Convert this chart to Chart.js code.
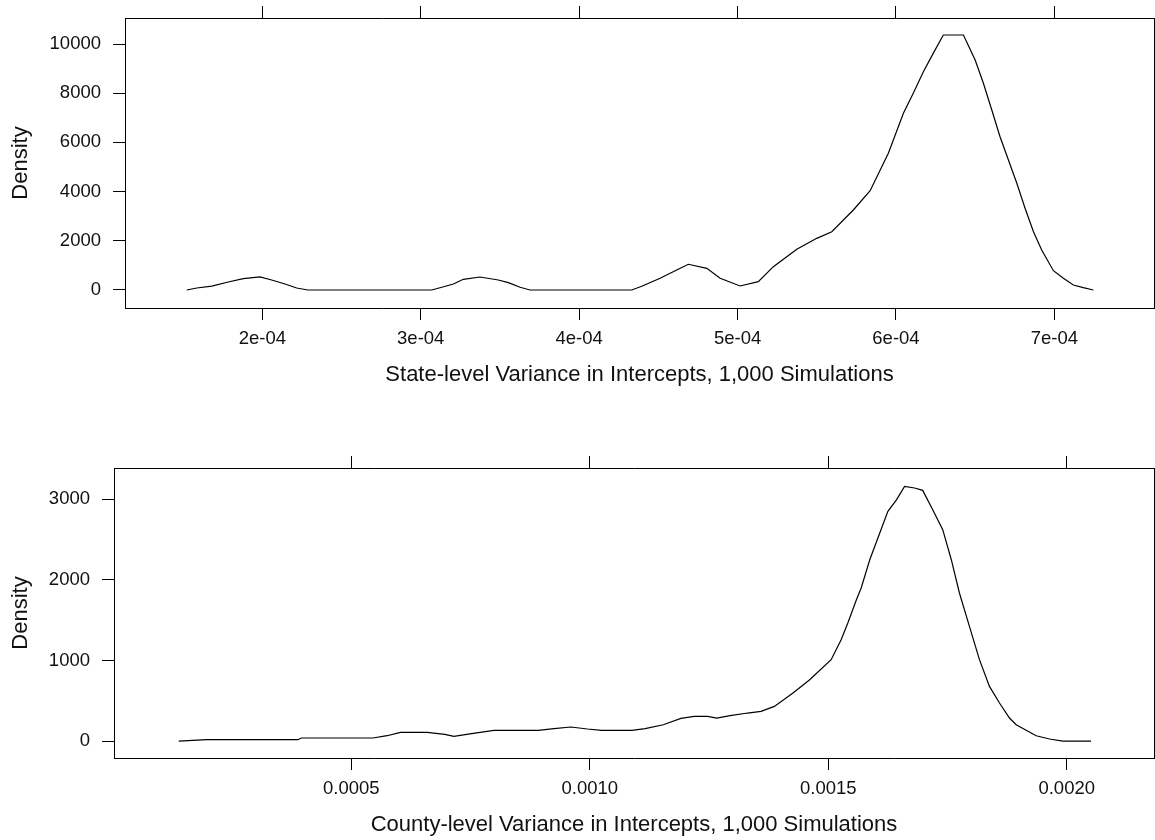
<!DOCTYPE html>
<html>
<head>
<meta charset="utf-8">
<script src="https://cdn.jsdelivr.net/npm/chart.js@4.4.0/dist/chart.umd.min.js"></script>
<style>
  html, body { margin: 0; padding: 0; background: #fff; }
  canvas { position: absolute; left: 0; }
  #stateChart { top: 0; }
  #countyChart { top: 400px; }
</style>
</head>
<body>
<canvas id="stateChart" width="1155" height="400"></canvas>
<canvas id="countyChart" width="1155" height="440"></canvas>
<script>
// State-level density curve
const stateX = [1.523e-4, 1.586e-4, 1.681e-4, 1.785e-4, 1.880e-4, 1.985e-4, 2.059e-4, 2.143e-4, 2.217e-4, 2.287e-4,
  3.069e-4, 3.133e-4, 3.206e-4, 3.269e-4, 3.374e-4, 3.490e-4, 3.553e-4, 3.627e-4, 3.690e-4,
  4.332e-4, 4.395e-4, 4.511e-4, 4.616e-4, 4.689e-4, 4.806e-4, 4.890e-4, 5.016e-4, 5.131e-4, 5.226e-4,
  5.374e-4, 5.500e-4, 5.595e-4, 5.731e-4, 5.837e-4, 5.952e-4, 6.047e-4, 6.110e-4, 6.173e-4, 6.236e-4,
  6.299e-4, 6.426e-4, 6.500e-4, 6.552e-4, 6.605e-4, 6.657e-4, 6.710e-4, 6.763e-4, 6.815e-4, 6.868e-4,
  6.920e-4, 6.994e-4, 7.057e-4, 7.120e-4, 7.183e-4, 7.246e-4];
const stateDensity = [0, 80, 160, 325, 460, 530, 406, 244, 80, 0,
  0, 110, 244, 434, 528, 406, 298, 110, 0,
  0, 150, 475, 813, 1045, 880, 475, 163, 340, 948,
  1653, 2100, 2370, 3252, 4037, 5556, 7183, 8010, 8874, 9628,
  10366, 10366, 9350, 8402, 7317, 6232, 5285, 4337, 3321, 2370,
  1626, 785, 475, 203, 95, 0];

// County-level density curve
const countyX = [1.38e-4, 1.97e-4, 3.88e-4, 3.95e-4, 5.45e-4, 5.75e-4, 6.03e-4, 6.59e-4, 6.96e-4, 7.15e-4,
  7.52e-4, 7.99e-4, 8.92e-4, 9.25e-4, 9.60e-4, 9.95e-4, 10.25e-4, 10.88e-4, 11.16e-4, 11.54e-4,
  11.91e-4, 12.19e-4, 12.47e-4, 12.66e-4, 12.94e-4, 13.31e-4, 13.59e-4, 13.87e-4, 14.26e-4, 14.61e-4,
  15.06e-4, 15.27e-4, 15.41e-4, 15.59e-4, 15.69e-4, 15.87e-4, 16.08e-4, 16.25e-4, 16.43e-4, 16.60e-4,
  16.81e-4, 16.98e-4, 17.19e-4, 17.40e-4, 17.58e-4, 17.75e-4, 17.96e-4, 18.17e-4, 18.38e-4, 18.59e-4,
  18.80e-4, 18.94e-4, 19.36e-4, 19.64e-4, 19.92e-4, 20.51e-4];
const countyDensity = [0, 19, 19, 40, 40, 68, 110, 110, 84, 60,
  93, 134, 134, 155, 176, 151, 134, 134, 155, 204,
  283, 307, 307, 287, 316, 349, 369, 431, 597, 762,
  1010, 1257, 1464, 1753, 1898, 2248, 2579, 2847, 2990, 3156,
  3136, 3107, 2868, 2620, 2248, 1836, 1422, 1010, 679, 473,
  287, 204, 68, 27, 0, 0];

// Tick values and labels
const stateXTicks = [2e-4, 3e-4, 4e-4, 5e-4, 6e-4, 7e-4];
const stateXLabels = ['2e-04', '3e-04', '4e-04', '5e-04', '6e-04', '7e-04'];
const stateYTicks = [0, 2000, 4000, 6000, 8000, 10000];
const stateYLabels = ['0', '2000', '4000', '6000', '8000', '10000'];
const countyXTicks = [0.0005, 0.0010, 0.0015, 0.0020];
const countyXLabels = ['0.0005', '0.0010', '0.0015', '0.0020'];
const countyYTicks = [0, 1000, 2000, 3000];
const countyYLabels = ['0', '1000', '2000', '3000'];

Chart.defaults.font.family = '"Liberation Sans", Arial, sans-serif';
Chart.defaults.color = '#111';

const INK = '#000';
const TICK_FONT = { size: 18.5 };
const TITLE_FONT = { size: 22 };

function densityPanel(id, xs, ys, p) {
  const setTicks = (values) => (scale) => { scale.ticks = values.map(v => ({ value: v })); };
  // fixed axis sizes so the plot box lands where it is in the picture
  const fitW = (w) => (s) => { s.width = w; s.paddingTop = 0; s.paddingBottom = 0; };
  const fitH = (h) => (s) => { s.height = h; s.paddingLeft = 0; s.paddingRight = 0; };
  const marks = { drawOnChartArea: false, drawTicks: true, tickLength: 12, color: INK, lineWidth: 1 };
  const frame = { display: true, color: INK, width: 1 };

  return new Chart(document.getElementById(id), {
    type: 'line',
    data: {
      datasets: [{
        data: xs.map((x, i) => ({ x: x, y: ys[i] })),
        borderColor: INK,
        borderWidth: 1.2,
        pointRadius: 0,
        tension: 0,
        fill: false
      }]
    },
    options: {
      responsive: false,
      animation: false,
      devicePixelRatio: 1,
      layout: { padding: 0 },
      plugins: { legend: { display: false }, tooltip: { enabled: false } },
      scales: {
        x: {
          type: 'linear', position: 'bottom', min: p.xMin, max: p.xMax,
          afterBuildTicks: setTicks(p.xTicks),
          afterFit: fitH(p.bottomH),
          ticks: { autoSkip: false, maxRotation: 0, padding: 8, font: TICK_FONT,
                   callback: (v, i) => p.xLabels[i] },
          grid: marks, border: frame,
          title: { display: true, text: p.xTitle, font: TITLE_FONT, padding: { top: 0, bottom: p.titlePad } }
        },
        x2: {
          type: 'linear', position: 'top', min: p.xMin, max: p.xMax,
          afterBuildTicks: setTicks(p.xTicks),
          afterFit: fitH(p.topH),
          ticks: { display: false },
          grid: marks, border: frame
        },
        y: {
          type: 'linear', position: 'left', min: p.yMin, max: p.yMax,
          afterBuildTicks: setTicks(p.yTicks),
          afterFit: fitW(p.leftW),
          ticks: { autoSkip: false, padding: 12, font: TICK_FONT,
                   callback: (v, i) => p.yLabels[i] },
          grid: marks, border: frame,
          title: { display: true, text: 'Density', font: TITLE_FONT, padding: { top: 8, bottom: 0 } }
        },
        y2: {
          type: 'linear', position: 'right', min: p.yMin, max: p.yMax,
          afterFit: fitW(1),
          ticks: { display: false },
          grid: { drawOnChartArea: false, drawTicks: false },
          border: frame
        }
      }
    }
  });
}

densityPanel('stateChart', stateX, stateDensity, {
  xMin: 1.133e-4, xMax: 7.629e-4, yMin: -732, yMax: 11057,
  xTicks: stateXTicks, xLabels: stateXLabels,
  yTicks: stateYTicks, yLabels: stateYLabels,
  xTitle: 'State-level Variance in Intercepts, 1,000 Simulations',
  leftW: 125, topH: 18, bottomH: 92, titlePad: 12
});

densityPanel('countyChart', countyX, countyDensity, {
  xMin: 0.0000023, xMax: 0.002183, yMin: -208, yMax: 3384,
  xTicks: countyXTicks, xLabels: countyXLabels,
  yTicks: countyYTicks, yLabels: countyYLabels,
  xTitle: 'County-level Variance in Intercepts, 1,000 Simulations',
  leftW: 114, topH: 68, bottomH: 82, titlePad: 2
});
</script>
</body>
</html>
